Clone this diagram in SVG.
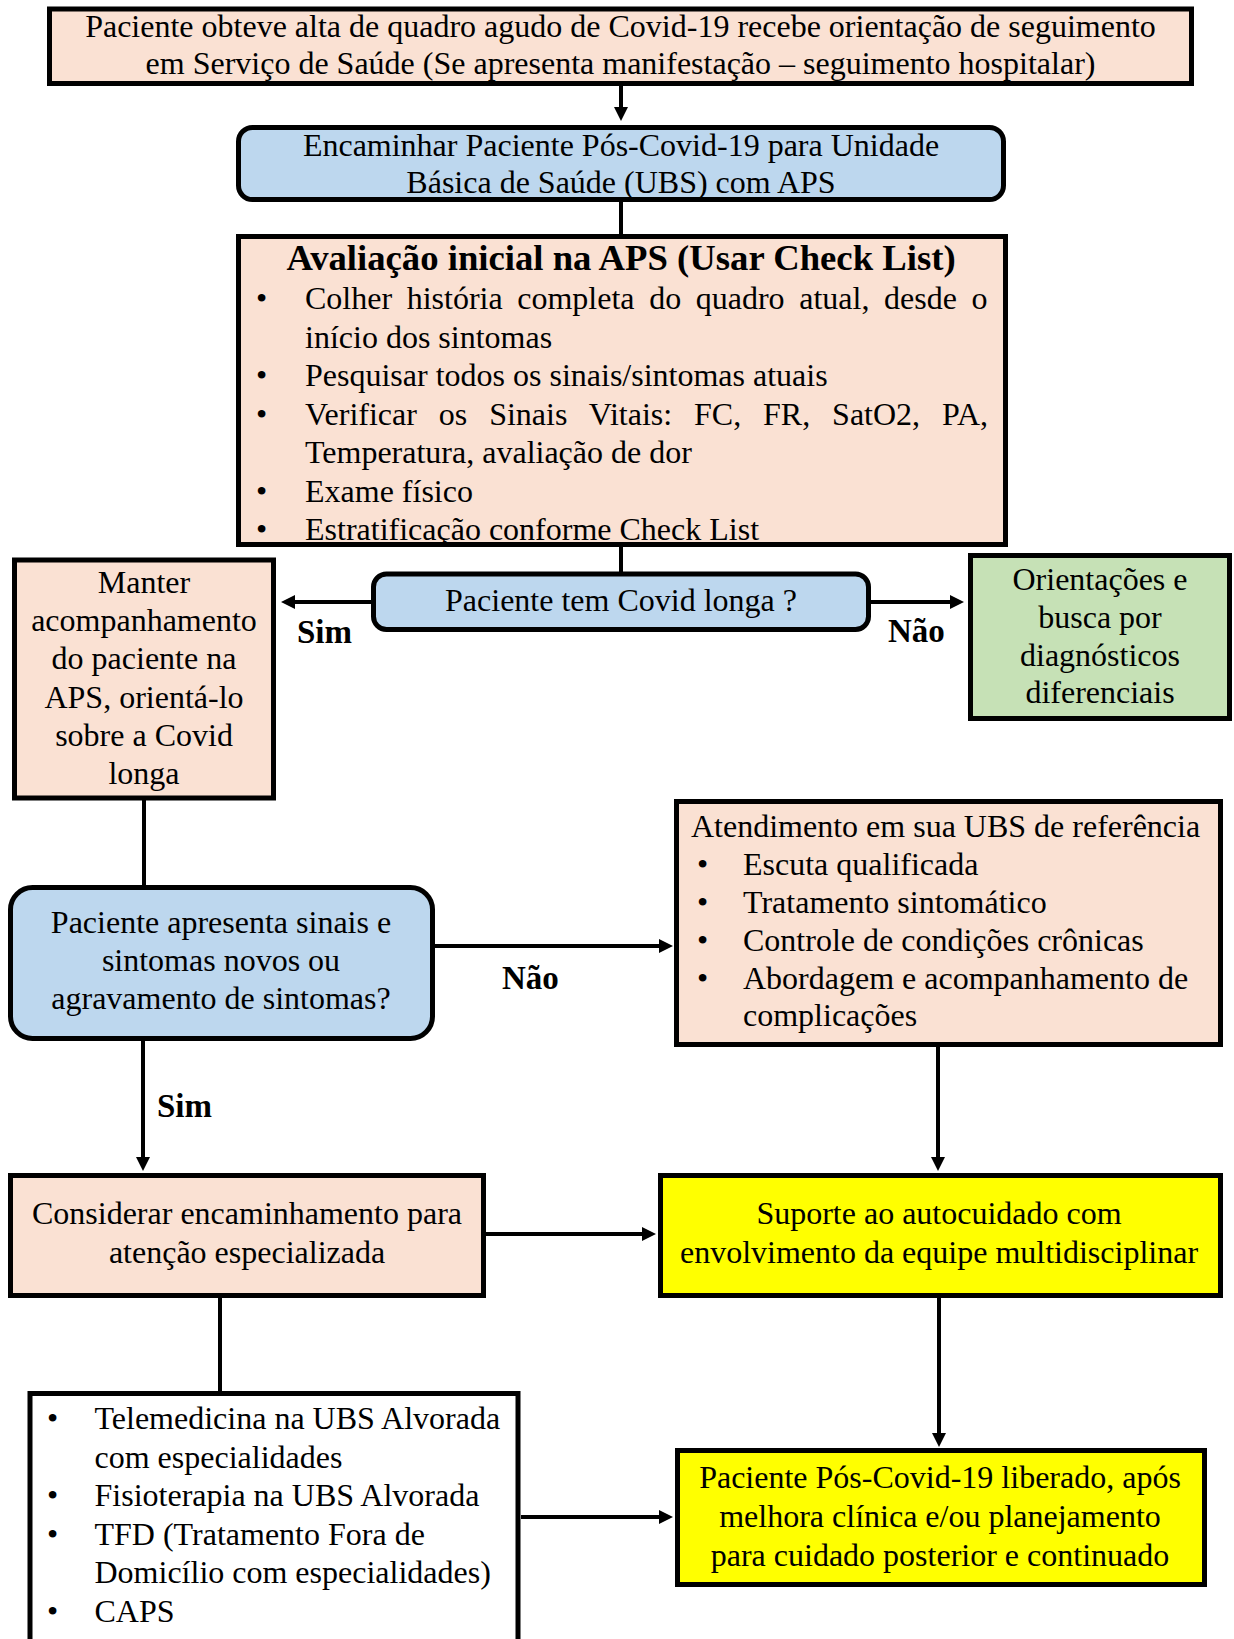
<svg xmlns="http://www.w3.org/2000/svg" width="1234" height="1639" viewBox="0 0 1234 1639">
<defs>
<style>
.box{stroke:#000;stroke-width:5}
.peach{fill:#FAE1D3}
.blue{fill:#BDD7EE}
.green{fill:#C6E1B6}
.yellow{fill:#FFFF00}
.white{fill:#FFFFFF}
text{font-family:"Liberation Serif","Times New Roman",serif;font-size:32px;fill:#000}
.c{text-anchor:middle}
.b{font-weight:bold}
.title{font-size:36.7px;font-weight:bold}
.lbl{font-size:33px;font-weight:bold}
.con{stroke:#000;stroke-width:4;fill:none}
</style>
<marker id="ah" viewBox="0 0 14 14" refX="5" refY="7" markerWidth="14" markerHeight="14" markerUnits="userSpaceOnUse" orient="auto">
<path d="M0,0 L14,7 L0,14 z" fill="#000"/>
</marker>
</defs>
<rect x="0" y="0" width="1234" height="1639" fill="#FFFFFF"/>

<g id="connectors">
<line class="con" x1="621" y1="86" x2="621" y2="112" marker-end="url(#ah)"/>
<line class="con" x1="621" y1="202" x2="621" y2="236"/>
<line class="con" x1="621" y1="546" x2="621" y2="573"/>
<line class="con" x1="371" y1="602" x2="290" y2="602" marker-end="url(#ah)"/>
<line class="con" x1="870" y1="602" x2="955" y2="602" marker-end="url(#ah)"/>
<line class="con" x1="144" y1="800" x2="144" y2="886"/>
<line class="con" x1="435" y1="946" x2="664" y2="946" marker-end="url(#ah)"/>
<line class="con" x1="143" y1="1041" x2="143" y2="1162" marker-end="url(#ah)"/>
<line class="con" x1="938" y1="1047" x2="938" y2="1162" marker-end="url(#ah)"/>
<line class="con" x1="486" y1="1234" x2="647" y2="1234" marker-end="url(#ah)"/>
<line class="con" x1="220" y1="1298" x2="220" y2="1392"/>
<line class="con" x1="939" y1="1298" x2="939" y2="1438" marker-end="url(#ah)"/>
<line class="con" x1="521" y1="1517" x2="664" y2="1517" marker-end="url(#ah)"/>
<text class="lbl" x="297" y="643">Sim</text>
<text class="lbl" x="888" y="642">Não</text>
<text class="lbl" x="502" y="989">Não</text>
<text class="lbl" x="157" y="1117">Sim</text>
</g>

<g id="n1">
<rect class="box peach" x="49.5" y="9" width="1142" height="74.5"/>
<text class="c" x="620.5" y="37">Paciente obteve alta de quadro agudo de Covid-19 recebe orientação de seguimento</text>
<text class="c" x="620.5" y="74">em Serviço de Saúde (Se apresenta manifestação – seguimento hospitalar)</text>
</g>

<g id="n2">
<rect class="box blue" x="238.5" y="127.5" width="765" height="72" rx="14"/>
<text class="c" x="621" y="156">Encaminhar Paciente Pós-Covid-19 para Unidade</text>
<text class="c" x="621" y="193">Básica de Saúde (UBS) com APS</text>
</g>

<g id="n3">
<rect class="box peach" x="238.5" y="236.5" width="767" height="308"/>
<text class="c title" x="621" y="270">Avaliação inicial na APS (Usar Check List)</text>
<text x="256" y="309">•</text><text x="305" y="309" word-spacing="6.6">Colher história completa do quadro atual, desde o</text>
<text x="305" y="347.5">início dos sintomas</text>
<text x="256" y="386">•</text><text x="305" y="386">Pesquisar todos os sinais/sintomas atuais</text>
<text x="256" y="424.5">•</text><text x="305" y="424.5" word-spacing="13.9">Verificar os Sinais Vitais: FC, FR, SatO2, PA,</text>
<text x="305" y="463">Temperatura, avaliação de dor</text>
<text x="256" y="501.5">•</text><text x="305" y="501.5">Exame físico</text>
<text x="256" y="540">•</text><text x="305" y="540">Estratificação conforme Check List</text>
</g>

<g id="n4">
<rect class="box blue" x="373.5" y="574" width="495" height="55.5" rx="13"/>
<text class="c" x="621" y="611">Paciente tem Covid longa ?</text>
</g>

<g id="n5">
<rect class="box peach" x="14.5" y="560" width="259" height="238"/>
<text class="c" x="144" y="593">Manter</text>
<text class="c" x="144" y="631">acompanhamento</text>
<text class="c" x="144" y="669">do paciente na</text>
<text class="c" x="144" y="707.5">APS, orientá-lo</text>
<text class="c" x="144" y="746">sobre a Covid</text>
<text class="c" x="144" y="784">longa</text>
</g>

<g id="n6">
<rect class="box green" x="970.5" y="555.5" width="259" height="163"/>
<text class="c" x="1100" y="590">Orientações e</text>
<text class="c" x="1100" y="628">busca por</text>
<text class="c" x="1100" y="666">diagnósticos</text>
<text class="c" x="1100" y="702.5">diferenciais</text>
</g>

<g id="n7">
<rect class="box blue" x="10.5" y="887.5" width="422" height="151" rx="22"/>
<text class="c" x="221" y="933">Paciente apresenta sinais e</text>
<text class="c" x="221" y="971">sintomas novos ou</text>
<text class="c" x="221" y="1009">agravamento de sintomas?</text>
</g>

<g id="n8">
<rect class="box peach" x="676.5" y="801.5" width="544" height="243"/>
<text x="691" y="837">Atendimento em sua UBS de referência</text>
<text x="697" y="875">•</text><text x="743" y="875">Escuta qualificada</text>
<text x="697" y="913">•</text><text x="743" y="913">Tratamento sintomático</text>
<text x="697" y="951">•</text><text x="743" y="951">Controle de condições crônicas</text>
<text x="697" y="989">•</text><text x="743" y="989">Abordagem e acompanhamento de</text>
<text x="743" y="1026">complicações</text>
</g>

<g id="n9">
<rect class="box peach" x="10.5" y="1175.5" width="473" height="120"/>
<text class="c" x="247" y="1224">Considerar encaminhamento para</text>
<text class="c" x="247" y="1263">atenção especializada</text>
</g>

<g id="n10">
<rect class="box yellow" x="660.5" y="1175.5" width="560" height="120"/>
<text class="c" x="939" y="1224">Suporte ao autocuidado com</text>
<text class="c" x="939" y="1263">envolvimento da equipe multidisciplinar</text>
</g>

<g id="n11">
<rect class="box white" x="30" y="1393.5" width="488" height="280"/>
<text x="47" y="1429">•</text><text x="94.5" y="1429">Telemedicina na UBS Alvorada</text>
<text x="94.5" y="1467.5">com especialidades</text>
<text x="47" y="1506">•</text><text x="94.5" y="1506">Fisioterapia na UBS Alvorada</text>
<text x="47" y="1544.5">•</text><text x="94.5" y="1544.5">TFD (Tratamento Fora de</text>
<text x="94.5" y="1583">Domicílio com especialidades)</text>
<text x="47" y="1621.5">•</text><text x="94.5" y="1621.5">CAPS</text>
</g>

<g id="n12">
<rect class="box yellow" x="677.5" y="1450.5" width="527" height="134"/>
<text class="c" x="940" y="1488">Paciente Pós-Covid-19 liberado, após</text>
<text class="c" x="940" y="1527">melhora clínica e/ou planejamento</text>
<text class="c" x="940" y="1566">para cuidado posterior e continuado</text>
</g>
</svg>
